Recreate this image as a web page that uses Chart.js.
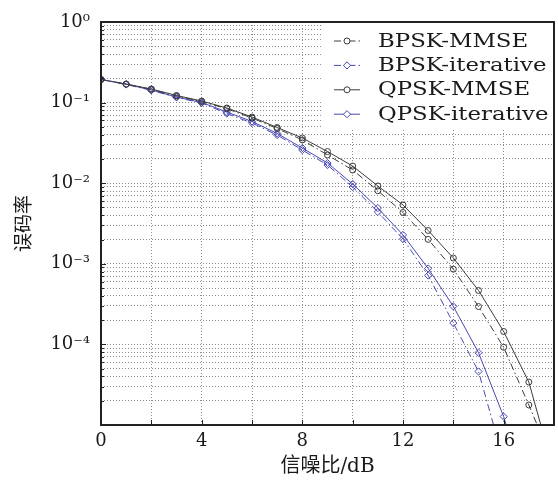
<!DOCTYPE html>
<html lang="zh">
<head>
<meta charset="UTF-8" />
<title>误码率曲线</title>
<script src="https://cdn.jsdelivr.net/npm/chart.js"></script>
<style>
  html, body { margin: 0; padding: 0; background: #fff; overflow: hidden; }
  #wrap { width: 560px; height: 486px; }
</style>
</head>
<body>
<div id="wrap"><canvas id="ber" width="560" height="486"></canvas></div>
<script>
// 信噪比 (dB) 与各方案的误码率
const snr = [0, 1, 2, 3, 4, 5, 6, 7, 8, 9, 10, 11, 12, 13, 14, 15, 16, 17, 18];
const bpskMmse = [0.1935, 0.169, 0.146, 0.121, 0.103, 0.084, 0.0644, 0.0477, 0.0344, 0.0224, 0.01458, 0.00807, 0.00433, 0.00201, 0.000857, 0.000295, 9.2e-5, 1.77e-5, 3.2e-6];
const bpskIter = [0.1935, 0.168, 0.142, 0.116, 0.099, 0.0732, 0.0558, 0.0396, 0.0258, 0.0168, 0.00897, 0.00439, 0.00203, 0.000716, 0.000184, 4.61e-5, 3.6e-6];
const qpskMmse = [0.1935, 0.170, 0.1475, 0.1225, 0.1047, 0.0857, 0.0662, 0.0491, 0.0364, 0.0247, 0.01633, 0.00923, 0.00537, 0.00259, 0.00118, 0.000467, 0.0001446, 3.41e-5, 2.6e-6];
const qpskIter = [0.1935, 0.169, 0.1433, 0.1173, 0.1003, 0.0764, 0.0583, 0.0414, 0.0273, 0.0178, 0.00977, 0.00492, 0.00228, 0.000875, 0.000297, 7.89e-5, 1.27e-5, 1.2e-6];
const names = ['BPSK-MMSE', 'BPSK-iterative', 'QPSK-MMSE', 'QPSK-iterative'];
const xLabelTicks = [0, 4, 8, 12, 16];
const yDecades = [-5, -4, -3, -2, -1, 0];
const yLabelDecades = [-4, -3, -2, -1, 0];

const BLACK = '#3c3c3c';
const BLUE = '#4848b4';
const serif = "'DejaVu Serif', 'Liberation Serif', serif";
const sup = { '-': '⁻', '0': '⁰', '1': '¹', '2': '²', '3': '³', '4': '⁴', '5': '⁵', '6': '⁶', '7': '⁷', '8': '⁸', '9': '⁹' };

function pts(arr) {
  return arr.map((v, i) => ({ x: snr[i], y: v }));
}

function makeSet(label, arr, color, dash, marker) {
  return {
    label: label,
    data: pts(arr),
    borderColor: color,
    borderWidth: 1,
    borderDash: dash,
    pointStyle: marker,
    pointRadius: marker === 'circle' ? 3 : 3.6,
    pointBorderWidth: 1,
    pointBorderColor: color,
    pointBackgroundColor: 'rgba(0,0,0,0)',
    tension: 0
  };
}

// 图例：画在图内右上角
const legendBox = {
  id: 'legendBox',
  afterDatasetsDraw(chart) {
    const { ctx, chartArea } = chart;
    ctx.save();
    ctx.fillStyle = '#fff';
    ctx.fillRect(323, chartArea.top, chartArea.right - 323, 107);
    chart.data.datasets.forEach((ds, i) => {
      const y = 41 + i * 24.4;
      ctx.strokeStyle = ds.borderColor;
      ctx.lineWidth = 1;
      ctx.setLineDash(ds.borderDash || []);
      ctx.beginPath();
      ctx.moveTo(334, y);
      ctx.lineTo(360, y);
      ctx.stroke();
      ctx.setLineDash([]);
      ctx.beginPath();
      if (ds.pointStyle === 'circle') {
        ctx.arc(347, y, 3, 0, Math.PI * 2);
      } else {
        ctx.moveTo(347, y - 3.6); ctx.lineTo(350.6, y); ctx.lineTo(347, y + 3.6); ctx.lineTo(343.4, y); ctx.closePath();
      }
      ctx.fillStyle = '#fff';
      ctx.fill();
      ctx.stroke();
      ctx.fillStyle = '#1a1a1a';
      ctx.font = '18px ' + serif;
      ctx.textBaseline = 'middle';
      ctx.save();
      ctx.translate(378, y + 1);
      ctx.scale(1.27, 1);
      ctx.fillText(ds.label, 0, 0);
      ctx.restore();
    });
    ctx.restore();
  }
};

// 边框与向内的刻度
const frame = {
  id: 'frame',
  afterDraw(chart) {
    const { ctx, chartArea } = chart;
    const xs = chart.scales.x, ys = chart.scales.y;
    ctx.save();
    ctx.strokeStyle = '#222';
    ctx.lineWidth = 1;
    ctx.beginPath();
    xs.ticks.forEach(t => {
      const px = Math.round(xs.getPixelForValue(t.value)) + 0.5;
      ctx.moveTo(px, chartArea.bottom);
      ctx.lineTo(px, chartArea.bottom - 5);
    });
    ys.ticks.forEach(t => {
      const py = Math.round(ys.getPixelForValue(t.value)) + 0.5;
      const major = Math.abs(Math.log10(t.value) - Math.round(Math.log10(t.value))) < 1e-6;
      ctx.moveTo(chartArea.left, py);
      ctx.lineTo(chartArea.left + (major ? 5 : 3), py);
    });
    ctx.stroke();
    ctx.lineWidth = 2;
    ctx.strokeRect(chartArea.left, chartArea.top, chartArea.right - chartArea.left, chartArea.bottom - chartArea.top);
    ctx.restore();
  }
};

const ctx = document.getElementById('ber').getContext('2d');
new Chart(ctx, {
  type: 'line',
  data: {
    datasets: [
      makeSet(names[0], bpskMmse, BLACK, [7, 3, 1.5, 3], 'circle'),
      makeSet(names[1], bpskIter, BLUE, [7, 3, 1.5, 3], 'rectRot'),
      makeSet(names[2], qpskMmse, BLACK, [], 'circle'),
      makeSet(names[3], qpskIter, BLUE, [], 'rectRot')
    ]
  },
  options: {
    responsive: false,
    animation: false,
    devicePixelRatio: 1,
    layout: { padding: { top: 22, left: 0, right: 0, bottom: 0 } },
    plugins: { legend: { display: false }, tooltip: { enabled: false } },
    scales: {
      x: {
        type: 'linear',
        min: 0,
        max: 18,
        afterFit: s => { s.height = 61; },
        ticks: {
          stepSize: 2,
          padding: 6,
          color: '#1a1a1a',
          font: { family: serif, size: 18 },
          maxRotation: 0,
          autoSkip: false,
          callback: v => xLabelTicks.includes(v) ? String(v) : ''
        },
        grid: { color: '#8c8c8c', lineWidth: 1, drawTicks: false },
        border: { display: false, dash: [1, 2] },
        title: {
          display: true,
          text: '信噪比/dB',
          color: '#1a1a1a',
          font: { family: "'DejaVu Serif', 'Noto Sans CJK SC', serif", size: 20 },
          padding: { top: 0, bottom: 7 }
        }
      },
      y: {
        type: 'logarithmic',
        min: 1e-5,
        max: 1,
        afterFit: s => { s.width = 101; },
        afterBuildTicks: s => {
          const t = [];
          yDecades.forEach(e => {
            for (let m = 1; m <= 9; m++) {
              const v = m * Math.pow(10, e);
              if (v <= 1 + 1e-12) t.push({ value: v });
            }
          });
          s.ticks = t;
        },
        ticks: {
          padding: 11,
          color: '#1a1a1a',
          font: { family: serif, size: 18 },
          autoSkip: false,
          callback: v => {
            const e = Math.log10(v);
            if (Math.abs(e - Math.round(e)) > 1e-6) return '';
            if (!yLabelDecades.includes(Math.round(e))) return '';
            return '10' + String(Math.round(e)).split('').map(c => sup[c]).join('');
          }
        },
        grid: { color: '#8c8c8c', lineWidth: 1, drawTicks: false },
        border: { display: false, dash: [1, 2] },
        title: {
          display: true,
          text: '误码率',
          color: '#1a1a1a',
          font: { family: "'Noto Sans CJK SC', serif", size: 19 },
          padding: { top: 11, bottom: 0 }
        }
      }
    }
  },
  plugins: [legendBox, frame]
});
</script>
</body>
</html>
